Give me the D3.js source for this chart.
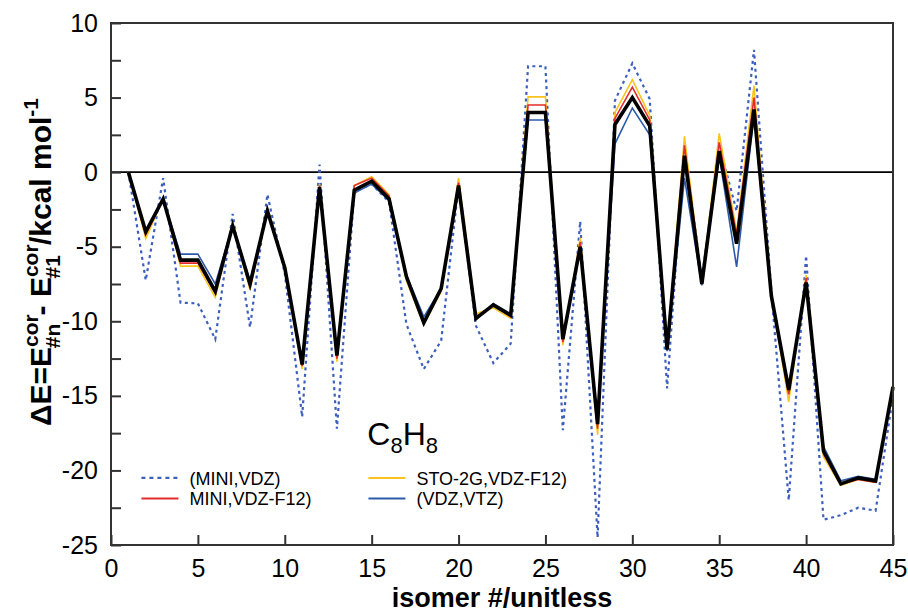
<!DOCTYPE html>
<html>
<head>
<meta charset="utf-8">
<script src="https://cdn.jsdelivr.net/npm/d3@7"></script>
<style>
  body { margin: 0; background: #fff; }
  svg text { font-family: "Liberation Sans", Arial, Helvetica, sans-serif; }
  .axis path { display: none; }
  .axis line { stroke: #333; stroke-width: 2; }
  .axis text { font-size: 25px; fill: #000; }
</style>
</head>
<body>
<svg id="chart" width="908" height="613"></svg>
<script>
// isomer index 1..45
const isomers = d3.range(1, 46);

// reference (thick black)
const refVals = [0, -4.0, -1.8, -5.9, -5.9, -8.0, -3.6, -7.5, -2.6, -6.4,
    -12.9, -1.0, -12.3, -1.2, -0.6, -1.8, -7.0, -10.1, -7.8, -0.9,
    -9.8, -8.9, -9.6, 4.0, 4.0, -11.2, -5.0, -16.9, 3.2, 5.0,
    3.1, -11.9, 1.1, -7.5, 1.4, -4.8, 4.2, -8.3, -14.6, -7.4,
    -18.7, -20.9, -20.5, -20.7, -14.4];

// (MINI,VDZ) dotted
const miniVdz = [0, -7.25, -0.4, -8.75, -8.8, -11.2, -2.8, -10.4, -1.5, -6.8,
    -16.4, 0.5, -17.2, -1.3, -0.8, -2.0, -10.2, -13.2, -11.3, -0.9,
    -10.3, -12.8, -11.5, 7.1, 7.1, -17.3, -3.3, -24.5, 4.8, 7.3,
    4.9, -14.5, 1.8, -7.2, 1.8, -2.6, 8.2, -8.0, -22.0, -5.6,
    -23.3, -23.0, -22.5, -22.7, -15.0];

// MINI,VDZ-F12)
const miniF12 = [0, -4.2, -1.8, -6.1, -6.1, -8.1, -3.6, -7.7, -2.5, -6.5,
    -13.0, -0.9, -12.5, -0.9, -0.4, -1.6, -7.1, -10.1, -7.9, -0.7,
    -9.7, -8.9, -9.7, 4.5, 4.5, -11.4, -4.7, -17.2, 3.6, 5.7,
    3.5, -11.9, 1.8, -7.5, 2.0, -4.2, 5.0, -8.3, -14.9, -7.1,
    -18.9, -20.9, -20.6, -20.8, -14.3];

// STO-2G,VDZ-F12)
const stoF12 = [0, -4.45, -1.8, -6.3, -6.3, -8.4, -3.5, -7.9, -2.4, -6.6,
    -13.2, -0.8, -12.7, -0.9, -0.3, -1.5, -7.3, -10.2, -8.0, -0.4,
    -9.5, -9.1, -9.8, 5.05, 5.05, -11.6, -4.4, -17.6, 4.0, 6.2,
    3.8, -11.8, 2.4, -7.4, 2.6, -4.0, 5.8, -8.2, -15.4, -6.9,
    -19.1, -21.0, -20.6, -20.8, -14.2];

// (VDZ,VTZ)
const vdzVtz = [0, -4.0, -1.8, -5.5, -5.5, -7.5, -3.6, -7.3, -2.6, -6.3,
    -12.9, -1.1, -12.3, -1.4, -0.8, -1.9, -6.9, -9.7, -7.8, -1.0,
    -9.9, -8.8, -9.5, 3.5, 3.5, -11.1, -5.1, -16.8, 1.9, 4.3,
    2.5, -12.0, -0.4, -7.6, 1.1, -6.35, 3.8, -8.4, -14.4, -7.5,
    -18.4, -20.7, -20.4, -20.6, -14.5];

const xTicks = [0, 5, 10, 15, 20, 25, 30, 35, 40, 45];
const yTicks = d3.range(-25, 10.01, 2.5);

const series = [
    { name: '(MINI,VDZ)',      vals: miniVdz, color: '#3c5fbf', width: 2.2, dash: '3,3.6' },
    { name: '(VDZ,VTZ)',       vals: vdzVtz,  color: '#2c5aa8', width: 1.6, dash: null },
    { name: 'STO-2G,VDZ-F12)', vals: stoF12,  color: '#f8c41c', width: 1.6, dash: null },
    { name: 'MINI,VDZ-F12)',   vals: miniF12, color: '#e42a2a', width: 1.6, dash: null },
    { name: 'ref',             vals: refVals, color: '#000',    width: 3.6, dash: null }
];

const M = { left: 111, top: 23, right: 15, bottom: 68 };
const W = 908 - M.left - M.right;
const H = 613 - M.top - M.bottom;

const svg = d3.select('#chart');
const g = svg.append('g').attr('transform', `translate(${M.left},${M.top})`);

const x = d3.scaleLinear().domain([0, 45]).range([0, W]);
const y = d3.scaleLinear().domain([-25, 10]).range([H, 0]);

// zero line
g.append('line')
    .attr('x1', 0).attr('x2', W)
    .attr('y1', y(0)).attr('y2', y(0))
    .attr('stroke', '#000').attr('stroke-width', 1.6);

const line = d3.line()
    .x((d, i) => x(isomers[i]))
    .y(d => y(d));

series.forEach(s => {
    g.append('path')
        .datum(s.vals)
        .attr('fill', 'none')
        .attr('stroke', s.color)
        .attr('stroke-width', s.width)
        .attr('stroke-dasharray', s.dash)
        .attr('stroke-linejoin', 'miter')
        .attr('d', line);
});

// axes, ticks pointing inward
g.append('g')
    .attr('class', 'axis')
    .call(d3.axisLeft(y).tickValues(yTicks).tickSize(-10).tickPadding(13)
        .tickFormat(d => d % 5 === 0 ? d : ''));

g.append('g')
    .attr('class', 'axis')
    .attr('transform', `translate(0,${H})`)
    .call(d3.axisBottom(x).tickValues(xTicks).tickSize(-10).tickPadding(14));

// frame
g.append('rect')
    .attr('width', W).attr('height', H)
    .attr('fill', 'none')
    .attr('stroke', '#333').attr('stroke-width', 2);

// C8H8 label
const mol = g.append('text')
    .attr('x', x(14.75)).attr('y', y(-18.3))
    .attr('font-size', 32);
mol.append('tspan').text('C');
mol.append('tspan').attr('font-size', 22).attr('dy', 8).text('8');
mol.append('tspan').attr('dy', -8).text('H');
mol.append('tspan').attr('font-size', 22).attr('dy', 8).text('8');

// legend
const legendItems = [
    { s: series[0], col: 0, row: 0 },
    { s: series[3], col: 0, row: 1 },
    { s: series[2], col: 1, row: 0 },
    { s: series[1], col: 1, row: 1 }
];
const lg = g.append('g').attr('transform', `translate(${x(1.75)},${y(-20.5)})`);
legendItems.forEach(it => {
    const ox = it.col * 227, oy = it.row * 20.5;
    lg.append('line')
        .attr('x1', ox).attr('x2', ox + 37)
        .attr('y1', oy).attr('y2', oy)
        .attr('stroke', it.s.color)
        .attr('stroke-width', it.s.dash ? 2.4 : 2)
        .attr('stroke-dasharray', it.s.dash ? '4,4' : null);
    lg.append('text')
        .attr('x', ox + 48).attr('y', oy + 7)
        .attr('font-size', 18)
        .text(it.s.name);
});

// x axis title
svg.append('text')
    .attr('x', M.left + W / 2).attr('y', 607)
    .attr('text-anchor', 'middle')
    .attr('font-size', 27).attr('font-weight', 'bold')
    .text('isomer #/unitless');

// y axis title with sub/superscripts
const yl = svg.append('text')
    .attr('transform', 'translate(51,262) rotate(-90)')
    .attr('text-anchor', 'middle')
    .attr('font-size', 30).attr('font-weight', 'bold');
yl.append('tspan').text('\u0394E=E');
yl.append('tspan').attr('font-size', 21).attr('dy', -13).text('cor');
yl.append('tspan').attr('font-size', 21).attr('dx', -34).attr('dy', 22).text('#n');
yl.append('tspan').attr('dy', -9).text(' - E');
yl.append('tspan').attr('font-size', 21).attr('dy', -13).text('cor');
yl.append('tspan').attr('font-size', 21).attr('dx', -34).attr('dy', 22).text('#1');
yl.append('tspan').attr('dx', 10).attr('dy', -9).text('/kcal mol');
yl.append('tspan').attr('font-size', 21).attr('dy', -13).text('-1');
</script>
</body>
</html>
